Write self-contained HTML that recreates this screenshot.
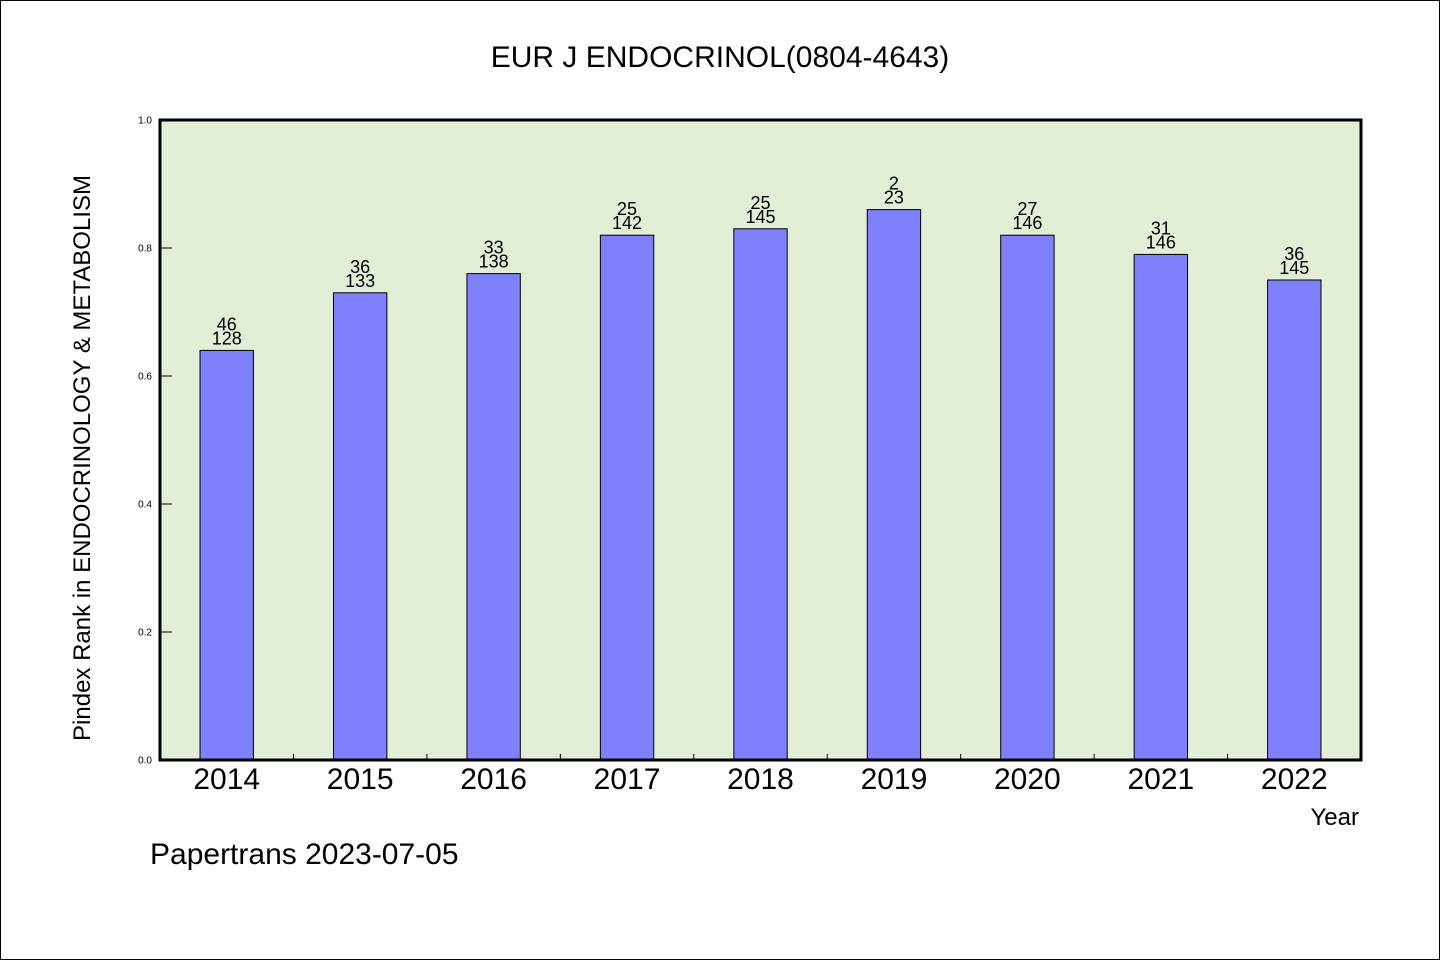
<!DOCTYPE html>
<html><head><meta charset="utf-8"><style>
html,body{margin:0;padding:0;background:#fff}
svg text{font-family:"WenQuanYi Zen Hei","Liberation Sans",sans-serif;fill:#000}
</style></head><body>
<svg width="1440" height="960" viewBox="0 0 1440 960" xmlns="http://www.w3.org/2000/svg">
<rect x="0.5" y="0.5" width="1439" height="959" fill="#fff" stroke="#000"/>
<text x="720" y="67" font-size="30" text-anchor="middle">EUR J ENDOCRINOL(0804-4643)</text>
<rect x="160" y="120" width="1201" height="640" fill="#e2efd6"/>
<g id="bars"></g>
<g id="axes"></g>
<rect x="160" y="120" width="1201" height="640" fill="none" stroke="#000" stroke-width="3"/>
<text x="90" y="458" font-size="24" text-anchor="middle" transform="rotate(-90 90 458)">Pindex Rank in ENDOCRINOLOGY &amp; METABOLISM</text>
<text x="1359" y="825" font-size="24" text-anchor="end">Year</text>
<text x="150" y="864" font-size="30">Papertrans 2023-07-05</text>
</svg>
<script>
const years=["2014","2015","2016","2017","2018","2019","2020","2021","2022"];
const values=[0.64,0.73,0.76,0.82,0.83,0.86,0.82,0.79,0.75];
const ranks=["46","36","33","25","25","2","27","31","36"];
const totals=["128","133","138","142","145","23","146","146","145"];
const yTicks=[0,0.2,0.4,0.6,0.8,1.0];
const NS="http://www.w3.org/2000/svg";
const X0=160,W=1201,Y0=760,H=640;
const band=W/years.length;
const xc=i=>X0+band*(i+0.5);
const y=v=>Y0-v*H;
function mk(t,a,p){const e=document.createElementNS(NS,t);for(const k in a)e.setAttribute(k,a[k]);p.appendChild(e);return e;}
const bars=document.getElementById('bars'),axes=document.getElementById('axes');
years.forEach((yr,i)=>{
 const bw=band*0.4;
 const r=mk('rect',{x:xc(i)-bw/2,y:y(values[i]),width:bw,height:Y0-y(values[i]),fill:'#8080ff',stroke:'#000','stroke-width':1},bars);
 
 
 const t1=mk('text',{x:xc(i),y:y(values[i])-6,'font-size':18,'text-anchor':'middle'},bars);t1.textContent=totals[i];
 
 
 const t2=mk('text',{x:xc(i),y:y(values[i])-20,'font-size':18,'text-anchor':'middle'},bars);t2.textContent=ranks[i];
 
 
 const xl=mk('text',{x:xc(i),y:789,'font-size':30,'text-anchor':'middle'},axes);xl.textContent=yr;
 
 
 if(i>0){const tk=mk('line',{x1:X0+band*i,x2:X0+band*i,y1:Y0,y2:Y0-6,stroke:'#000','stroke-width':1},axes);
 
 }
});
yTicks.forEach(v=>{
 const tk=mk('line',{x1:X0,x2:X0+12,y1:y(v),y2:y(v),stroke:'#000','stroke-width':1},axes);
 
 
 const tl=mk('text',{x:152,y:y(v)+3.5,'font-size':10,'text-anchor':'end'},axes);tl.textContent=v.toFixed(1);
 
 
});
</script>
</body></html>
